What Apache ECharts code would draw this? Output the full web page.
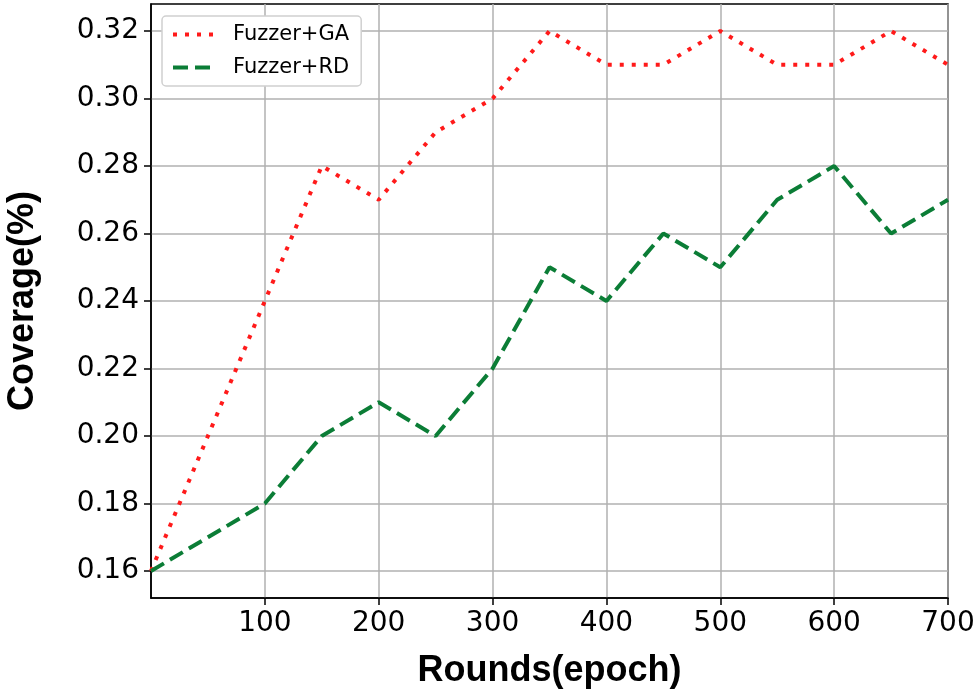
<!DOCTYPE html>
<html>
<head>
<meta charset="utf-8">
<script src="https://cdn.jsdelivr.net/npm/echarts@6/dist/echarts.min.js"></script>
<style>
  html, body { margin: 0; padding: 0; background: #fff; }
  #main { width: 980px; height: 695px; }
</style>
</head>
<body>
<div id="main"></div>
<script>
  // rounds (epoch)
  const rounds = [0, 50, 100, 150, 200, 250, 300, 350, 400, 450, 500, 550, 600, 650, 700];
  // coverage values
  const gaCoverage = [0.16, 0.20, 0.24, 0.28, 0.27, 0.29, 0.30, 0.32, 0.31, 0.31, 0.32, 0.31, 0.31, 0.32, 0.31];
  const rdCoverage = [0.16, 0.17, 0.18, 0.20, 0.21, 0.20, 0.22, 0.25, 0.24, 0.26, 0.25, 0.27, 0.28, 0.26, 0.27];
  // tick labels
  const xTicks = [100, 200, 300, 400, 500, 600, 700];
  const yTicks = [0.16, 0.18, 0.20, 0.22, 0.24, 0.26, 0.28, 0.30, 0.32];

  const myChart = echarts.init(document.getElementById('main'));

  const tickFont = {
    fontFamily: 'DejaVu Sans',
    fontSize: 28,
    color: '#000'
  };
  const titleFont = {
    fontFamily: 'Liberation Sans',
    fontWeight: 'bold',
    fontSize: 36,
    color: '#000'
  };
  const gridLine = {
    show: true,
    lineStyle: { color: '#b0b0b0', width: 1.5 }
  };

  const option = {
    animation: false,
    backgroundColor: '#fff',
    grid: {
      left: 151,
      right: 32,
      top: 4,
      bottom: 97,
      outerBoundsMode: 'none',
      containLabel: false,
      show: true,
      borderColor: '#000',
      borderWidth: 1.5,
      backgroundColor: 'transparent'
    },
    legend: {
      orient: 'vertical',
      left: 162,
      top: 16,
      padding: [8, 12, 8, 9],
      itemWidth: 41,
      itemHeight: 14,
      itemGap: 12,
      backgroundColor: '#fff',
      borderColor: '#d0d0d0',
      borderWidth: 1.5,
      borderRadius: 4,
      textStyle: {
        fontFamily: 'DejaVu Sans',
        fontSize: 21,
        color: '#000',
        padding: [0, 0, 0, 14]
      },
      // hide the marker the line legend adds, keep the line
      itemStyle: { opacity: 0 },
      lineStyle: { width: 4 },
      data: ['Fuzzer+GA', 'Fuzzer+RD']
    },
    xAxis: {
      type: 'value',
      min: 0,
      max: 700,
      name: 'Rounds(epoch)',
      nameLocation: 'middle',
      nameGap: 55,
      nameTextStyle: titleFont,
      axisLine: { show: true, lineStyle: { color: '#000', width: 1.5 } },
      axisTick: { show: true, length: 7, lineStyle: { color: '#000', width: 1.5 }, customValues: xTicks },
      axisLabel: Object.assign({ margin: 12, customValues: xTicks }, tickFont),
      splitLine: gridLine
    },
    yAxis: {
      type: 'value',
      min: 0.152,
      max: 0.328,
      name: 'Coverage(%)',
      nameLocation: 'middle',
      nameGap: 110,
      nameTextStyle: titleFont,
      axisLine: { show: true, lineStyle: { color: '#000', width: 1.5 } },
      axisTick: { show: true, length: 7, lineStyle: { color: '#000', width: 1.5 }, customValues: yTicks },
      axisLabel: Object.assign({
        margin: 12,
        customValues: yTicks,
        formatter: function (v) { return v.toFixed(2); }
      }, tickFont),
      splitLine: gridLine
    },
    series: [{
      name: 'Fuzzer+GA',
      type: 'line',
      symbol: 'none',
      data: rounds.map(function (r, i) { return [r, gaCoverage[i]]; }),
      lineStyle: { color: '#ff1a1a', width: 4, type: [4, 8], cap: 'butt' },
      itemStyle: { color: '#ff1a1a' }
    }, {
      name: 'Fuzzer+RD',
      type: 'line',
      symbol: 'none',
      data: rounds.map(function (r, i) { return [r, rdCoverage[i]]; }),
      lineStyle: { color: '#0b7d36', width: 4, type: [15, 7], cap: 'butt' },
      itemStyle: { color: '#0b7d36' }
    }]
  };

  myChart.setOption(option);
</script>
</body>
</html>
